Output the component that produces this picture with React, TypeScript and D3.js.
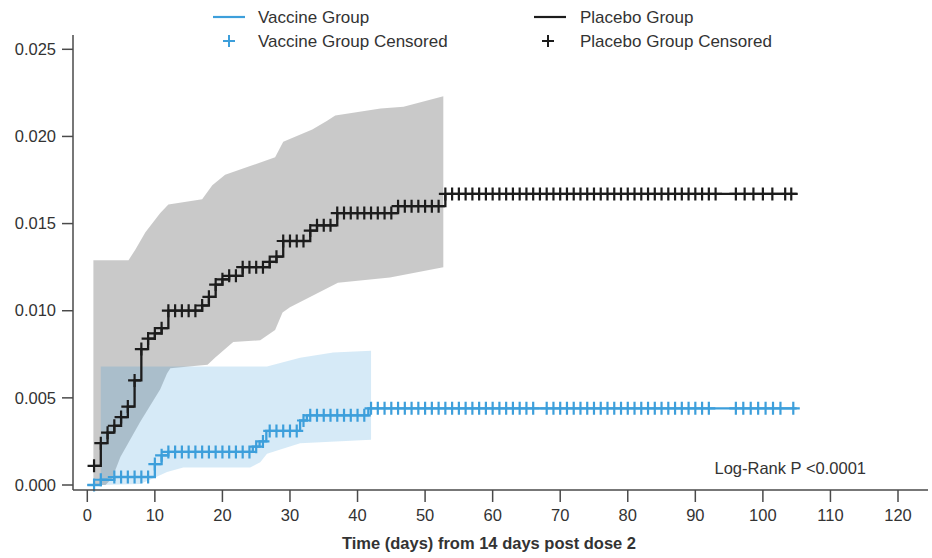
import * as d3 from 'd3';

// chart data
const xTicks = [0, 10, 20, 30, 40, 50, 60, 70, 80, 90, 100, 110, 120];
const yTicks = [0, 0.005, 0.01, 0.015, 0.02, 0.025];

// cumulative incidence steps: [day, value]
const placeboSteps: [number, number][] = [
  [1, 0.0011], [2, 0.0024], [3, 0.003], [4, 0.0034], [5, 0.0039], [6, 0.0045],
  [7, 0.006], [8, 0.0078], [9, 0.0084], [10, 0.0087], [11, 0.009], [12, 0.01],
  [17, 0.0103], [18, 0.0108], [19, 0.0115], [20, 0.0118], [21, 0.012], [23, 0.0125],
  [27, 0.0128], [28, 0.0131], [29, 0.014], [33, 0.0146], [34, 0.0149], [37, 0.0156],
  [46, 0.016], [53, 0.0167],
];
const vaccineSteps: [number, number][] = [
  [0, 0], [2, 0.0003], [4, 0.00046], [10, 0.0012], [11, 0.0017], [12, 0.0019],
  [24.5, 0.0022], [25.5, 0.0025], [26.5, 0.0031], [31.5, 0.0037], [32.5, 0.004],
  [41.6, 0.0044],
];
const lastDay = 105;

const placeboCensored = [
  1, 2, 3, 4, 5, 6, 7, 8, 9, 10, 11, 12, 13, 14, 15, 16, 17, 18, 19, 20,
  21, 22, 23, 24, 25, 26, 27, 28, 29, 30, 31, 32, 33, 34, 35, 36, 37, 38, 39, 40,
  41, 42, 43, 44, 45, 46, 47, 48, 49, 50, 51, 52, 53, 54, 55, 56, 57, 58, 59, 60,
  61, 62, 63, 64, 65, 66, 67, 68, 69, 70, 71, 72, 73, 74, 75, 76, 77, 78, 79, 80,
  81, 82, 83, 84, 85, 86, 87, 88, 89, 90, 91, 92, 93,
  96, 97.3, 98.6, 100, 101.4, 103.3, 104.2,
];
const vaccineCensored = [
  1, 2, 4, 5, 6, 7, 8, 9, 10, 11, 12, 13, 14, 15, 16, 17, 18, 19, 20,
  21, 22, 23, 24, 25, 26, 27, 28, 29, 30, 31, 32, 33, 34, 35, 36, 37, 38, 39, 40,
  41, 42, 43, 44, 45, 46, 47, 48, 49, 50, 51, 52, 53, 54, 55, 56, 57, 58, 59, 60,
  61, 62, 63, 64, 65, 66, 68, 69, 70, 71, 72, 73, 74, 75, 76, 77, 78, 79, 80,
  81, 82, 83, 84, 85, 86, 87, 88, 89, 90, 91, 92,
  96, 97.1, 98.2, 99.3, 100.4, 101.5, 102.6, 104.5,
];

// 95% confidence bands: [day, value]
const placeboUpper: [number, number][] = [
  [0.9, 0.0129], [6.1, 0.0129], [7.1, 0.0135], [8.6, 0.0145], [10.8, 0.0156],
  [12, 0.0161], [17, 0.0164], [18.5, 0.0172], [20.4, 0.0178], [24.1, 0.0183],
  [27.8, 0.0188], [29, 0.0197], [33.3, 0.0204], [35.5, 0.0209], [36.7, 0.0212],
  [43.4, 0.0216], [46.8, 0.0217], [52.7, 0.0223],
];
const placeboLower: [number, number][] = [
  [0.9, 0], [2.7, 0], [3.7, 0.0004], [4.9, 0.0016], [7.8, 0.0036], [10.8, 0.0055],
  [11.8, 0.0064], [12.3, 0.0067], [17.8, 0.0069], [18.9, 0.0073], [21.6, 0.0082],
  [25.6, 0.0083], [27.8, 0.0089], [28.9, 0.0099], [30, 0.0102], [37.1, 0.0116],
  [44.8, 0.0119], [52.7, 0.0125],
];
const vaccineUpper: [number, number][] = [
  [2, 0.0068], [26.6, 0.0068], [31.5, 0.0073], [36.4, 0.0076], [42, 0.0077],
];
const vaccineLower: [number, number][] = [
  [2, 0], [7.8, 0.00006], [9.3, 0.0003], [11.8, 0.00075], [14.2, 0.001],
  [24.1, 0.001], [25.6, 0.0013], [26.6, 0.0018], [31.5, 0.0024], [42, 0.0026],
];

const W = 932;
const H = 558;
const FONT = '"Liberation Sans", Arial, Helvetica, sans-serif';
const BLUE = '#3d9fdb';
const BLACK = '#1c1c1c';
const AXIS = '#4a4a4a';

const x = d3.scaleLinear().domain([0, 120]).range([87.3, 898]);
const y = d3.scaleLinear().domain([0, 0.025]).range([485, 49.3]);

const stepLine = d3.line<[number, number]>()
  .x(d => x(d[0]))
  .y(d => y(d[1]))
  .curve(d3.curveStepAfter);

const bandPath = (upper: [number, number][], lower: [number, number][]) => {
  const pts = [...upper, ...lower.slice().reverse()];
  return d3.line<[number, number]>().x(d => x(d[0])).y(d => y(d[1]))(pts) + 'Z';
};

const valueAt = (steps: [number, number][], day: number) => {
  let v = 0;
  for (const s of steps) if (s[0] <= day) v = s[1];
  return v;
};

const plus = (cx: number, cy: number, r = 6.5) =>
  `M${cx - r},${cy}h${2 * r}M${cx},${cy - r}v${2 * r}`;

const withEnd = (steps: [number, number][]): [number, number][] =>
  [...steps, [lastDay, steps[steps.length - 1][1]]];

const App = () => {
  const placeboMarks = placeboCensored.map(d => plus(x(d), y(valueAt(placeboSteps, d)))).join('');
  const vaccineMarks = vaccineCensored.map(d => plus(x(d), y(valueAt(vaccineSteps, d)))).join('');

  return (
    <svg width={W} height={H} style={{ position: 'absolute', left: 0, top: 0, background: '#fff' }}
      fontFamily={FONT}>
      {/* confidence bands */}
      <path d={bandPath(placeboUpper, placeboLower)} fill="rgb(0,0,0)" fillOpacity={0.21} />
      <path d={bandPath(vaccineUpper, vaccineLower)} fill="rgb(50,150,215)" fillOpacity={0.2} />

      {/* step curves */}
      <path d={stepLine(withEnd(vaccineSteps)) || ''} fill="none" stroke={BLUE} strokeWidth={2.3} />
      <path d={vaccineMarks} fill="none" stroke={BLUE} strokeWidth={2.2} />
      <path d={stepLine(withEnd(placeboSteps)) || ''} fill="none" stroke={BLACK} strokeWidth={2.3} />
      <path d={placeboMarks} fill="none" stroke={BLACK} strokeWidth={2.2} />

      {/* y axis */}
      <line x1={73} x2={73} y1={35} y2={490} stroke={AXIS} strokeWidth={1.5} />
      {yTicks.map(t => (
        <g key={t}>
          <line x1={62} x2={73} y1={y(t)} y2={y(t)} stroke={AXIS} strokeWidth={1.5} />
          <text x={56} y={y(t)} dy="0.35em" textAnchor="end" fontSize={16.5} fill="#333">
            {d3.format('.3f')(t)}
          </text>
        </g>
      ))}

      {/* x axis */}
      <line x1={73} x2={928} y1={490} y2={490} stroke={AXIS} strokeWidth={1.5} />
      {xTicks.map(t => (
        <g key={t}>
          <line x1={x(t)} x2={x(t)} y1={490} y2={502} stroke={AXIS} strokeWidth={1.5} />
          <text x={x(t)} y={521} textAnchor="middle" fontSize={16.5} fill="#333">{t}</text>
        </g>
      ))}
      <text x={489} y={549} textAnchor="middle" fontSize={16.5} fontWeight="bold" fill="#333">
        Time (days) from 14 days post dose 2
      </text>

      <text x={866} y={474} textAnchor="end" fontSize={16.5} fill="#333">Log-Rank P &lt;0.0001</text>

      {/* legend */}
      <line x1={213} x2={245} y1={17} y2={17} stroke={BLUE} strokeWidth={2.2} />
      <text x={258} y={17} dy="0.35em" fontSize={17} fill="#333">Vaccine Group</text>
      <path d={plus(229, 41, 6)} stroke={BLUE} strokeWidth={2} />
      <text x={258} y={41} dy="0.35em" fontSize={17} fill="#333">Vaccine Group Censored</text>
      <line x1={534} x2={566} y1={17} y2={17} stroke={BLACK} strokeWidth={2.2} />
      <text x={580} y={17} dy="0.35em" fontSize={17} fill="#333">Placebo Group</text>
      <path d={plus(548, 41, 6)} stroke={BLACK} strokeWidth={2} />
      <text x={580} y={41} dy="0.35em" fontSize={17} fill="#333">Placebo Group Censored</text>
    </svg>
  );
};

export default App;
